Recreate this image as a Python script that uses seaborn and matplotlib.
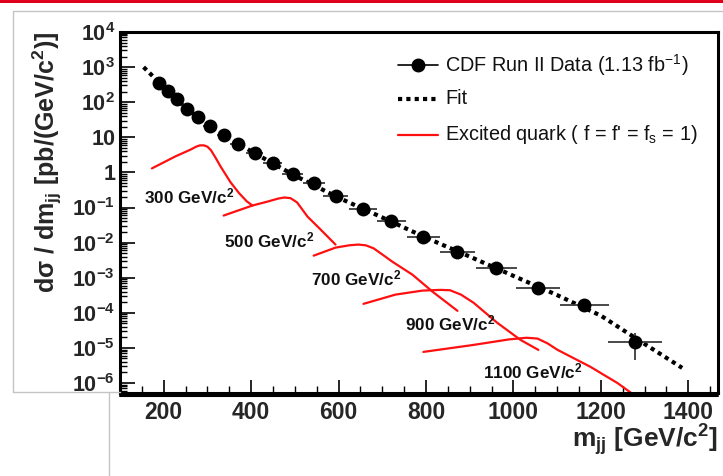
import numpy as np
import pandas as pd
import matplotlib
matplotlib.use("Agg")
import matplotlib.pyplot as plt
import seaborn as sns
from matplotlib.lines import Line2D
from matplotlib.ticker import FixedLocator, FixedFormatter, LogLocator, NullFormatter, MultipleLocator

# ---------------- data ----------------
data_mass = [189, 209, 230, 253, 278, 305, 337, 369, 408, 449, 495, 543,
             593, 655, 721, 794, 872, 961, 1057, 1162, 1279]
data_xsec = [349, 206, 122, 63, 37, 20.6, 11.4, 6.3, 3.5, 1.8, 0.88, 0.485,
             0.206, 0.093, 0.040, 0.0148, 0.0055, 0.00193, 5.2e-4, 1.7e-4, 1.5e-5]
data_halfwidth = [10, 10, 11, 12, 13, 15, 16, 17, 20, 21, 24, 25,
                  28, 32, 33, 37, 40, 47, 50, 56, 62]
data_err_low = [0, 0, 0, 0, 0, 0, 0, 0, 0, 0, 0, 0,
                0, 0, 0, 0, 0, 0, 6e-5, 3.5e-5, 1.04e-5]
data_err_high = [0, 0, 0, 0, 0, 0, 0, 0, 0, 0, 0, 0,
                 0, 0, 0, 0, 0, 0, 6e-5, 3.5e-5, 1.2e-5]

fit_mass = [154, 200, 250, 300, 400, 500, 600, 700, 800, 900, 1000, 1100, 1200, 1300, 1386]
fit_xsec = [1000, 270, 70, 23, 4.0, 0.81, 0.19, 0.052, 0.0138, 0.0040, 1.13e-3,
            3.2e-4, 8.3e-5, 1.3e-5, 2.7e-6]

q300_mass = [173, 227, 262, 274, 283, 292, 300, 308, 318, 330, 353, 372, 390, 403]
q300_xsec = [1.3, 2.87, 4.5, 5.4, 5.9, 5.9, 5.4, 4.3, 2.7, 1.48, 0.52, 0.26, 0.15, 0.114]
q500_mass = [337, 403, 438, 462, 476, 490, 505, 529, 559, 593]
q500_xsec = [0.059, 0.114, 0.148, 0.18, 0.193, 0.185, 0.14, 0.055, 0.0235, 0.0088]
q700_mass = [543, 593, 625, 645, 662, 680, 700, 723, 769, 815, 872]
q700_xsec = [4.25e-3, 7.2e-3, 8.4e-3, 8.8e-3, 8.4e-3, 6.9e-3, 4.6e-3, 2.86e-3, 1.22e-3, 4.0e-4, 1.14e-4]
q900_mass = [657, 730, 792, 833, 855, 880, 909, 963, 1016, 1057]
q900_xsec = [1.8e-4, 3.3e-4, 4.3e-4, 4.5e-4, 4.4e-4, 3.3e-4, 1.93e-4, 5.2e-5, 1.7e-5, 8.8e-6]
q1100_mass = [794, 909, 990, 1030, 1055, 1078, 1101, 1176, 1238, 1286]
q1100_xsec = [7.7e-6, 1.22e-5, 1.75e-5, 1.95e-5, 1.85e-5, 1.35e-5, 8.8e-6, 2.9e-6, 1.0e-6, 3.7e-7]

signal_labels = ["300 GeV/c$^{\\mathbf{2}}$", "500 GeV/c$^{\\mathbf{2}}$", "700 GeV/c$^{\\mathbf{2}}$",
                 "900 GeV/c$^{\\mathbf{2}}$", "1100 GeV/c$^{\\mathbf{2}}$"]
signal_label_pos = [(154, 0.206), (337, 0.0114), (536, 9.3e-4), (753, 5.1e-5), (931, 2.2e-6)]

xtick_values = [200, 400, 600, 800, 1000, 1200, 1400]
xtick_labels = ["200", "400", "600", "800", "1000", "1200", "1400"]
ytick_values = [1e-6, 1e-5, 1e-4, 1e-3, 1e-2, 1e-1, 1, 10, 1e2, 1e3, 1e4]
ytick_labels = ["10$^{\\mathbf{-6}}$", "10$^{\\mathbf{-5}}$", "10$^{\\mathbf{-4}}$",
                "10$^{\\mathbf{-3}}$", "10$^{\\mathbf{-2}}$", "10$^{\\mathbf{-1}}$",
                "1", "10", "10$^{\\mathbf{2}}$", "10$^{\\mathbf{3}}$", "10$^{\\mathbf{4}}$"]

legend_labels = ["CDF Run II Data (1.13 fb$^{-1}$)", "Fit",
                 "Excited quark ( f = f' = f$_{\\mathrm{s}}$ = 1)"]

# ---------------- style ----------------
sns.set_style("white")
plt.rcParams["font.family"] = ["Liberation Sans", "DejaVu Sans"]
plt.rcParams["mathtext.fontset"] = "custom"
plt.rcParams["mathtext.rm"] = "Liberation Sans"
plt.rcParams["mathtext.it"] = "Liberation Sans:italic"
plt.rcParams["mathtext.bf"] = "Liberation Sans:bold"
plt.rcParams["mathtext.default"] = "rm"

W, H = 723, 476
fig = plt.figure(figsize=(W / 100, H / 100), dpi=100)
fig.patch.set_facecolor("white")


def fx(px):
    return px / W


def fy(py):
    return 1 - py / H


# slide decorations
fig.add_artist(plt.Rectangle((0, fy(3)), 1, 3 / H, transform=fig.transFigure,
                             color="#e0001b", lw=0))
gray = "#c4c4c4"
fig.add_artist(Line2D([fx(13), 1], [fy(11), fy(11)], transform=fig.transFigure, color=gray, lw=1))
fig.add_artist(Line2D([fx(13), fx(13)], [fy(11), fy(392)], transform=fig.transFigure, color=gray, lw=1))
fig.add_artist(Line2D([fx(13), fx(120)], [fy(392), fy(392)], transform=fig.transFigure, color=gray, lw=1))
fig.add_artist(Line2D([fx(109), fx(109)], [fy(392), 0], transform=fig.transFigure, color=gray, lw=1))

ax = fig.add_axes([fx(120), fy(393), (718 - 120) / W, (393 - 32) / H])
ax.set_facecolor("white")

# fit
fit_df = pd.DataFrame({"m": fit_mass, "xs": fit_xsec})
sns.lineplot(data=fit_df, x="m", y="xs", ax=ax, color="black", lw=3,
             linestyle=(0, (1, 1)), sort=False, zorder=3)

# signals
red = "#ff1010"
for mm, xx in [(q300_mass, q300_xsec), (q500_mass, q500_xsec), (q700_mass, q700_xsec),
               (q900_mass, q900_xsec), (q1100_mass, q1100_xsec)]:
    sdf = pd.DataFrame({"m": mm, "xs": xx})
    sns.lineplot(data=sdf, x="m", y="xs", ax=ax, color=red, lw=1.6, sort=False, zorder=2)

# data points
ax.errorbar(data_mass, data_xsec, xerr=data_halfwidth,
            yerr=[data_err_low, data_err_high], fmt="none",
            ecolor="#3a3a3a", elinewidth=1.3, capsize=0, zorder=4)
ddf = pd.DataFrame({"m": data_mass, "xs": data_xsec})
sns.scatterplot(data=ddf, x="m", y="xs", ax=ax, color="black", s=100,
                edgecolor="black", linewidth=0, zorder=5)

for lab, (lx, ly) in zip(signal_labels, signal_label_pos):
    ax.text(lx, ly, lab, fontsize=12.3, fontweight="bold", color="#111111",
            ha="left", va="center", zorder=6)

ax.set_yscale("log")
ax.set_xlim(100, 1468)
ax.set_ylim(5.2e-7, 1.0e4)

ax.xaxis.set_major_locator(FixedLocator(xtick_values))
ax.xaxis.set_major_formatter(FixedFormatter(xtick_labels))
ax.xaxis.set_minor_locator(MultipleLocator(50))
ax.yaxis.set_major_locator(FixedLocator(ytick_values))
ax.yaxis.set_major_formatter(FixedFormatter(ytick_labels))
ax.yaxis.set_minor_locator(LogLocator(base=10, subs=np.arange(2, 10), numticks=100))
ax.yaxis.set_minor_formatter(NullFormatter())

ax.tick_params(axis="both", which="both", direction="in", top=False, right=False,
               left=True, bottom=True, color="black")
ax.tick_params(axis="y", which="major", length=11, width=1.2, pad=3.5, labelsize=15.5)
ax.tick_params(axis="y", which="minor", length=5, width=1.0)
ax.tick_params(axis="x", which="major", length=9.5, width=1.2, pad=6, labelsize=16.5)
ax.tick_params(axis="x", which="minor", length=5, width=1.0)
for lab in ax.get_xticklabels() + ax.get_yticklabels():
    lab.set_fontweight("bold")

for sp in ax.spines.values():
    sp.set_visible(True)
    sp.set_color("black")
    sp.set_linewidth(2.2)

ax.set_xlabel("")
ax.set_ylabel("")
# double line under x axis
ax.plot([0, 1], [-0.009, -0.009], transform=ax.transAxes, color="black", lw=1.5, clip_on=False)

fig.text(fx(718), fy(440), "m$_{\\mathbf{jj}}$ [GeV/c$^{\\mathbf{2}}$]", fontsize=19,
         fontweight="bold", ha="right", va="center")
fig.text(fx(47), fy(162), "d\u03c3 / dm$_{\\mathbf{jj}}$ [pb/(GeV/c$^{\\mathbf{2}}$)]",
         fontsize=18, fontweight="bold", rotation=90, ha="center", va="center",
         family=["Liberation Sans", "DejaVu Sans"])

# legend (manual)
hx0, hx1, tx = 398, 438, 445
rows = [65, 99, 135]
fig.add_artist(Line2D([fx(hx0), fx(hx1)], [fy(rows[0])] * 2, transform=fig.transFigure,
                      color="black", lw=1.2))
fig.add_artist(Line2D([fx((hx0 + hx1) / 2)], [fy(rows[0])], transform=fig.transFigure,
                      marker="o", ms=9, color="black", lw=0))
fig.add_artist(Line2D([fx(hx0), fx(hx1)], [fy(rows[1])] * 2, transform=fig.transFigure,
                      color="black", lw=3, linestyle=(0, (1, 1))))
fig.add_artist(Line2D([fx(hx0), fx(hx1)], [fy(rows[2])] * 2, transform=fig.transFigure,
                      color=red, lw=1.6))
for lab, ry in zip(legend_labels, rows):
    fig.text(fx(tx), fy(ry), lab, fontsize=14.3, ha="left", va="center", color="#111111")

fig.savefig("out.png", dpi=100)
